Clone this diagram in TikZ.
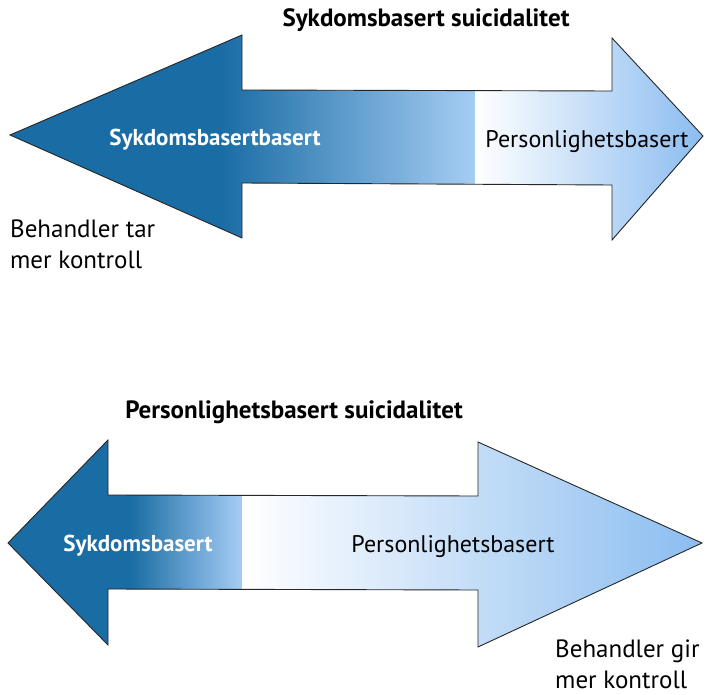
\documentclass[tikz,border=0pt]{standalone}
\usepackage{fontspec}
\setmainfont{PT Sans}
\definecolor{adark}{RGB}{26,108,164}
\definecolor{amidb}{RGB}{78,152,218}
\definecolor{amid}{RGB}{165,205,244}
\definecolor{alight}{RGB}{138,188,240}
\tikzset{
  arrowline/.style={draw=black!85, line width=0.9pt, line join=miter},
  title/.style={font=\fontsize{25}{30}\selectfont\bfseries, inner sep=0pt},
  inlbl/.style={font=\fontsize{24}{29}\selectfont, inner sep=0pt},
  whitelbl/.style={font=\fontsize{23}{28}\selectfont\bfseries, text=white, inner sep=0pt},
  sidelbl/.style={font=\fontsize{25}{31}\selectfont, inner sep=0pt, align=left}
}
\begin{document}
\begin{tikzpicture}[x=1pt,y=-1pt]
\useasboundingbox (0,0) rectangle (705,695);
% top arrow
\def\toparrow{(10,135) -- (242,35) -- (242,90) -- (612,91) -- (612,38) -- (703,136) -- (612,240) -- (612,185) -- (242,183) -- (242,238) -- cycle}
\begin{scope}
\clip \toparrow;
\fill[adark] (0,0) rectangle (221,260);
\shade[left color=adark, middle color=amidb, right color=amid] (220,0) rectangle (475,260);
\shade[left color=white, right color=alight] (475,0) rectangle (705,260);
\end{scope}
\draw[arrowline] \toparrow;
% bottom arrow
\def\botarrow{(8,543) -- (108,440) -- (108,495) -- (478,496) -- (478,442) -- (702,543) -- (478,647) -- (478,590) -- (108,589) -- (108,645) -- cycle}
\begin{scope}
\clip \botarrow;
\fill[adark] (0,420) rectangle (131,670);
\shade[left color=adark, middle color=amidb, right color=amid] (130,420) rectangle (242,670);
\shade[left color=white, right color=alight] (242,420) rectangle (705,670);
\end{scope}
\draw[arrowline] \botarrow;
% texts
\node[title] (t1) at (426,20) {Sykdomsbasert suicidalitet};
\node[whitelbl] (s1) at (215,140) {Sykdomsbasertbasert};
\node[inlbl] (p1) at (587,142) {Personlighetsbasert};
\node[sidelbl, anchor=north west] (b1) at (10,220) {Behandler tar\\mer kontroll};
\node[title] (t2) at (294,412) {Personlighetsbasert suicidalitet};
\node[whitelbl] (s2) at (138,546) {Sykdomsbasert};
\node[inlbl] (p2) at (453,547) {Personlighetsbasert};
\node[sidelbl, anchor=north west] (b2) at (555,640) {Behandler gir\\mer kontroll};
\end{tikzpicture}
\end{document}
